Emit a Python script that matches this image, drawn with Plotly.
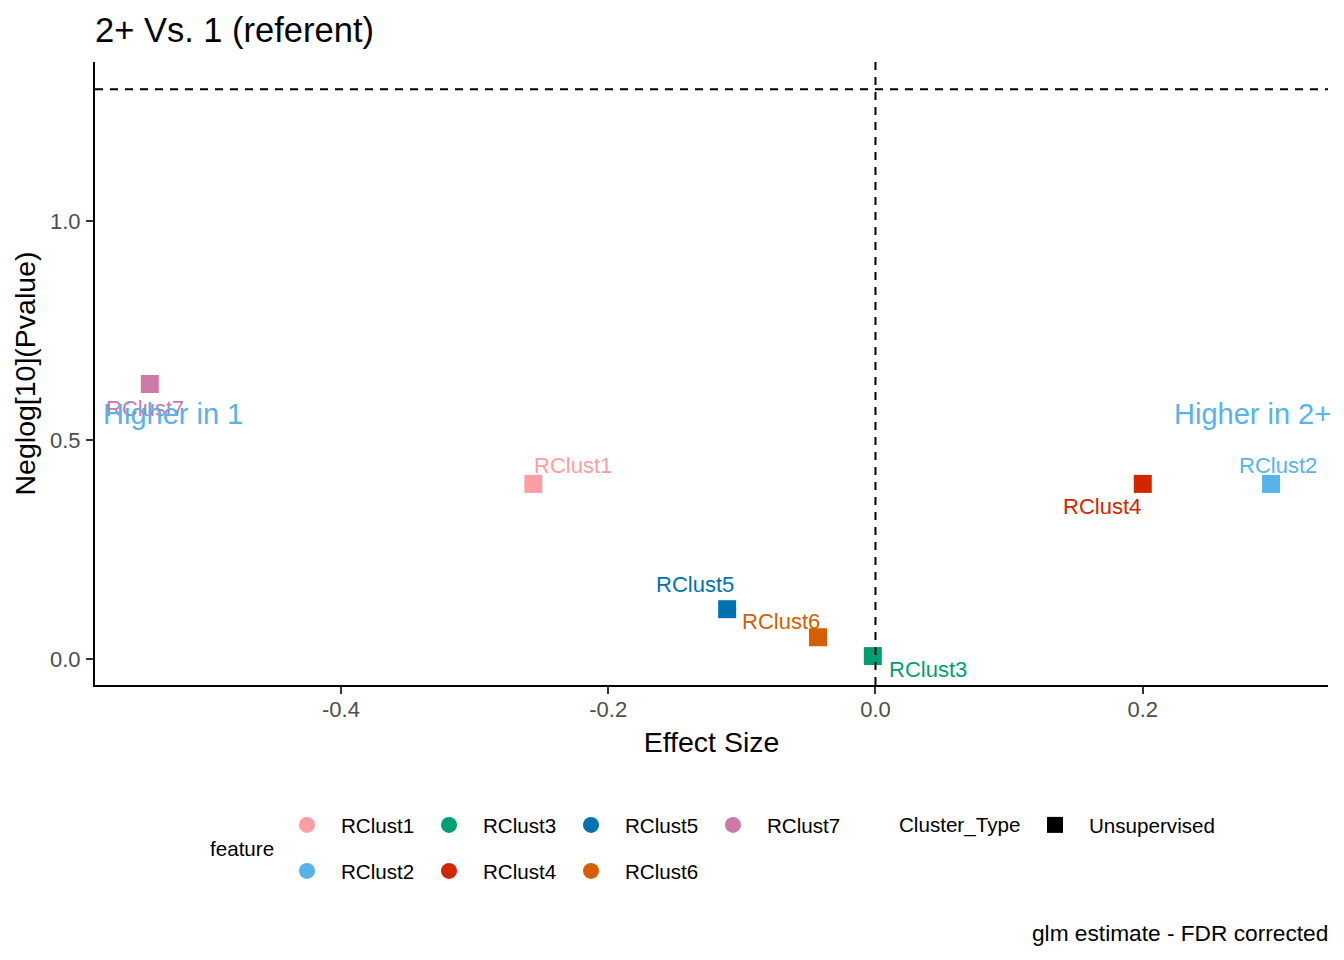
import math
import plotly.graph_objects as go

# 数据: effect size / neglog10 p-value per cluster
features = ["RClust1", "RClust2", "RClust3", "RClust4", "RClust5", "RClust6", "RClust7"]
effect_size = [-0.256, 0.296, -0.002, 0.200, -0.111, -0.043, -0.543]
neglog_p = [0.400, 0.400, 0.007, 0.400, 0.114, 0.050, 0.628]
cluster_type = ["Unsupervised"] * 7
fdr_cutoff = 0.05

x_ticks = [-0.4, -0.2, 0.0, 0.2]
y_ticks = [0.0, 0.5, 1.0]

# 颜色 / 样式
colors = {
    "RClust1": "#FF9DA5",
    "RClust2": "#56B4E9",
    "RClust3": "#009E73",
    "RClust4": "#D22600",
    "RClust5": "#0072B2",
    "RClust6": "#D55E00",
    "RClust7": "#CC79A7",
}
# repel-style label offsets in px (dx, dy)
label_shift = {
    "RClust1": (40, 18),
    "RClust2": (7, 18),
    "RClust3": (55, -13),
    "RClust4": (-41, -23),
    "RClust5": (-32, 25),
    "RClust6": (-37, 16),
    "RClust7": (-5, -24),
}
FONT = "Liberation Sans, Arial, sans-serif"
side_label_color = "#56B4E9"

# page has an 8px body margin, so the figure is 8px smaller than the window
OFF = 8
W, H = 1344 - OFF, 960 - OFF
M = dict(l=95 - OFF, r=16, t=62 - OFF, b=275)


def paper_x(px):
    return (px - OFF - M["l"]) / (W - M["l"] - M["r"])


def paper_y(py):
    return (H - M["b"] - (py - OFF)) / (H - M["t"] - M["b"])


def cont_x(px):
    return (px - OFF) / W


def cont_y(py):
    return 1 - (py - OFF) / H


fig = go.Figure()

# 阈值线
fig.add_hline(y=-math.log10(fdr_cutoff), line=dict(color="black", width=2, dash="8px,7px"))
fig.add_vline(x=0, line=dict(color="black", width=2, dash="8px,7px"))

# 散点
for f, x, y in zip(features, effect_size, neglog_p):
    fig.add_trace(go.Scatter(
        x=[x], y=[y], mode="markers",
        marker=dict(symbol="square", size=18, color=colors[f]),
        showlegend=False, hoverinfo="text", text=f,
    ))

# 图例 (circles, two rows)
for i, f in enumerate(features):
    fig.add_trace(go.Scatter(
        x=[None], y=[None], mode="markers",
        marker=dict(symbol="circle", size=18, color=colors[f]),
        name=f, legend="legend" if i % 2 == 0 else "legend2",
    ))
fig.add_trace(go.Scatter(
    x=[None], y=[None], mode="markers",
    marker=dict(symbol="square", size=18, color="black"),
    name=cluster_type[0], legend="legend3",
))

# 点标签
for f, x, y in zip(features, effect_size, neglog_p):
    dx, dy = label_shift[f]
    fig.add_annotation(
        x=x, y=y, text=f, showarrow=False, xshift=dx, yshift=dy,
        font=dict(family=FONT, size=22, color=colors[f]),
    )

fig.add_annotation(x=-0.526, y=0.56, text="Higher in 1", showarrow=False,
                   font=dict(family=FONT, size=29, color=side_label_color))
fig.add_annotation(x=0.282, y=0.56, text="Higher in 2+", showarrow=False,
                   font=dict(family=FONT, size=29, color=side_label_color))

# 图例标题 & caption
fig.add_annotation(xref="paper", yref="paper", x=paper_x(208), y=paper_y(848),
                   xanchor="left", yanchor="middle", text="feature", showarrow=False,
                   font=dict(family=FONT, size=20.6, color="black"))
fig.add_annotation(xref="paper", yref="paper", x=paper_x(897), y=paper_y(825),
                   xanchor="left", yanchor="middle", text="Cluster_Type", showarrow=False,
                   font=dict(family=FONT, size=20.6, color="black"))
fig.add_annotation(xref="paper", yref="paper", x=paper_x(1328), y=paper_y(933),
                   xanchor="right", yanchor="middle", text="glm estimate - FDR corrected",
                   xshift=2, showarrow=False, font=dict(family=FONT, size=22.7, color="black"))

legend_style = dict(
    orientation="h", xref="container", yref="container", xanchor="left", yanchor="middle",
    font=dict(family=FONT, size=20.6, color="black"),
    itemwidth=58, entrywidth=69, bgcolor="rgba(0,0,0,0)", itemclick=False,
)

axis_style = dict(
    showgrid=False, zeroline=False, showline=True, linecolor="black", linewidth=2,
    ticks="outside", ticklen=7, tickwidth=2, tickcolor="#333333",
    tickfont=dict(family=FONT, size=22, color="#4D4D4D"), mirror=False,
)

fig.update_layout(
    width=W, height=H,
    paper_bgcolor="white", plot_bgcolor="white",
    margin=M,
    font=dict(family=FONT, color="black"),
    title=dict(text="2+ Vs. 1 (referent)", x=0, xref="paper", xanchor="left",
               yref="container", y=cont_y(30), yanchor="middle",
               font=dict(family=FONT, size=34.5, color="black")),
    xaxis=dict(axis_style, range=[-0.584, 0.3386], tickvals=x_ticks,
               ticktext=[f"{v:.1f}" for v in x_ticks], ticklabelstandoff=-3,
               title=dict(text="Effect Size", standoff=11, font=dict(family=FONT, size=28.5))),
    yaxis=dict(axis_style, range=[-0.059, 1.363], tickvals=y_ticks,
               ticktext=[f"{v:.1f}" for v in y_ticks], ticklabelstandoff=1,
               title=dict(text="Neglog[10](Pvalue)", standoff=6, font=dict(family=FONT, size=28.5))),
    legend=dict(legend_style, x=cont_x(273), y=cont_y(825)),
    legend2=dict(legend_style, x=cont_x(273), y=cont_y(871)),
    legend3=dict(legend_style, x=cont_x(1021), y=cont_y(825), entrywidth=140),
)

fig.write_html("out.html")
